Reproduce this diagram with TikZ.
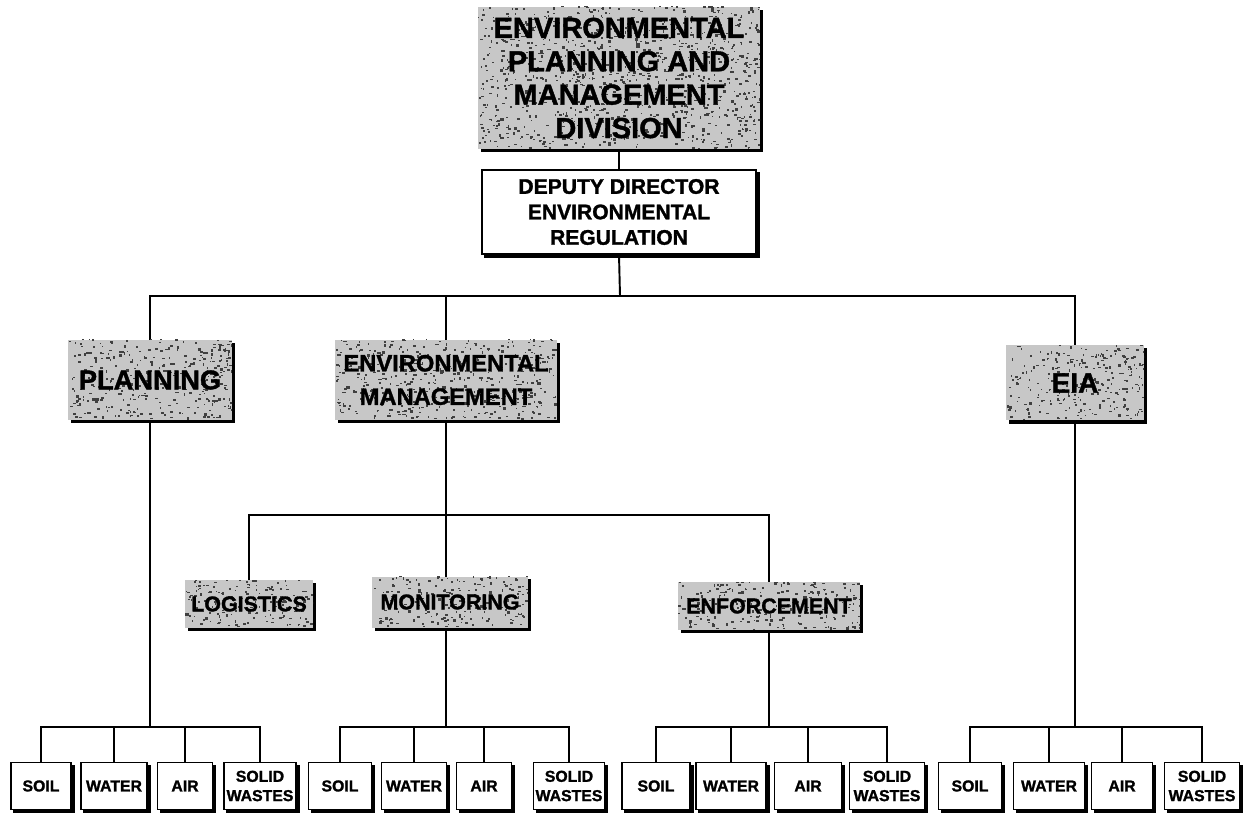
\documentclass[tikz,border=0pt]{standalone}
\usepackage{fontspec}
\setmainfont{Liberation Sans}[BoldFeatures={FakeBold=1.4}]
\usetikzlibrary{calc,backgrounds}

\def\px{0.02cm}

\tikzset{
  % plain box size, in pixel units
  boxsize/.style 2 args={inner sep=0pt, minimum width=#1*\px, minimum height=#2*\px, align=center},
  fsize/.style 2 args={font=\bfseries\fontsize{#1}{#2}\selectfont},
  % grey stippled unit box
  unitbox/.style={fill=black!22, speckle=#1},
  speckle/.style={path picture={
    \pgfpointanchor{path picture bounding box}{south west}\pgfgetlastxy\spa\spb
    \pgfpointanchor{path picture bounding box}{north east}\pgfgetlastxy\spc\spd
    \foreach \k in {1,...,#1}{
      \pgfmathsetmacro\rx{\spa+rnd*(\spc-\spa)}
      \pgfmathsetmacro\ry{\spb+rnd*(\spd-\spb)}
      \pgfmathsetmacro\sw{0.5+1.4*rnd}
      \pgfmathsetmacro\sh{0.5+1.0*rnd}
      \fill[black!75] (\rx pt,\ry pt) rectangle ++(\sw pt,\sh pt);
    }
  }},
  % white framed box
  plainbox/.style={fill=white, draw=black, line width=0.7pt},
  leaf/.style={plainbox, boxsize={#1}{47}, fsize={9}{11}},
  conn/.style={line width=1.1pt, line cap=rect},
  shade/.style={fill=black},
}

\begin{document}
\begin{tikzpicture}[x=0.02cm, y=-0.02cm]
\pgfmathsetseed{4711}
\useasboundingbox (0,0) rectangle (1243,813);

% --- division and deputy director
\node[unitbox=1000, boxsize={282}{142}, fsize={16.5}{19}] (top) at (619,78)
  {ENVIRONMENTAL\\PLANNING AND\\MANAGEMENT\\DIVISION};
\node[plainbox, boxsize={274}{84}, fsize={12}{14.5}] (deputy) at (619,212)
  {DEPUTY DIRECTOR\\ENVIRONMENTAL\\REGULATION};

% --- sections
\node[unitbox=330, boxsize={164}{80}, fsize={15.5}{18}] (planning) at (150,380) {PLANNING};
\node[unitbox=450, boxsize={222}{80}, fsize={13.5}{19}] (envm) at (446,380)
  {ENVIRONMENTAL\\MANAGEMENT};
\node[unitbox=260, boxsize={138}{75}, fsize={16}{18}] (eia) at (1075,383) {EIA};

% --- units of environmental management
\node[unitbox=160, boxsize={128}{48}, fsize={12.2}{14}] (logistics) at (249,604) {LOGISTICS};
\node[unitbox=200, boxsize={156}{51}, fsize={12.2}{14}] (monitoring) at (450,602) {MONITORING};
\node[unitbox=220, boxsize={182}{48}, fsize={12.2}{14}] (enforcement) at (769,606) {ENFORCEMENT};

% --- media sections
\node[leaf=60] (soilA)  at (41,786)  {SOIL};
\node[leaf=66] (waterA) at (114,786) {WATER};
\node[leaf=55] (airA)   at (185,786) {AIR};
\node[leaf=72] (solidA) at (260,786) {SOLID\\WASTES};

\node[leaf=63] (soilB)  at (340,786) {SOIL};
\node[leaf=65] (waterB) at (414,786) {WATER};
\node[leaf=55] (airB)   at (484,786) {AIR};
\node[leaf=71] (solidB) at (569,786) {SOLID\\WASTES};

\node[leaf=68] (soilC)  at (656,786) {SOIL};
\node[leaf=70] (waterC) at (731,786) {WATER};
\node[leaf=67] (airC)   at (808,786) {AIR};
\node[leaf=75] (solidC) at (887,786) {SOLID\\WASTES};

\node[leaf=63] (soilD)  at (970,786) {SOIL};
\node[leaf=71] (waterD) at (1049,786) {WATER};
\node[leaf=61] (airD)   at (1122,786) {AIR};
\node[leaf=75] (solidD) at (1202,786) {SOLID\\WASTES};

% --- bus levels
\coordinate (busA) at (620,296);
\coordinate (busB) at (446,515);
\coordinate (busC) at (0,727);

\begin{scope}[on background layer]
  \fill[white] (0,0) rectangle (1243,813);

  % drop shadows
  \foreach \n in {top,deputy,planning,envm,eia,logistics,monitoring,enforcement,
                  soilA,waterA,airA,solidA,soilB,waterB,airB,solidB,
                  soilC,waterC,airC,solidC,soilD,waterD,airD,solidD}
    \fill[shade] ([shift={(3,3)}]\n.north west) rectangle ([shift={(3,3)}]\n.south east);

  % top of the tree
  \draw[conn] (top) -- (deputy);
  \draw[conn] (deputy.south) -- (busA);
  \draw[conn] (planning.north) -- (planning.north |- busA) -- (eia.north |- busA) -- (eia.north);
  \draw[conn] (envm.north) -- (envm.north |- busA);

  % environmental management units
  \draw[conn] (envm.south) -- (busB) -- (busB |- busC);
  \draw[conn] (logistics.north) -- (logistics.north |- busB) -- (enforcement.north |- busB) -- (enforcement.north);

  % down to the media sections
  \draw[conn] (planning.south) -- (planning.south |- busC);
  \draw[conn] (enforcement.south) -- (enforcement.south |- busC);
  \draw[conn] (eia.south) -- (eia.south |- busC);

  \foreach \g in {A,B,C,D}{
    \draw[conn] (soil\g.north) -- (soil\g.north |- busC) -- (solid\g.north |- busC) -- (solid\g.north);
    \draw[conn] (water\g.north) -- (water\g.north |- busC);
    \draw[conn] (air\g.north) -- (air\g.north |- busC);
  }
\end{scope}
\end{tikzpicture}
\end{document}
